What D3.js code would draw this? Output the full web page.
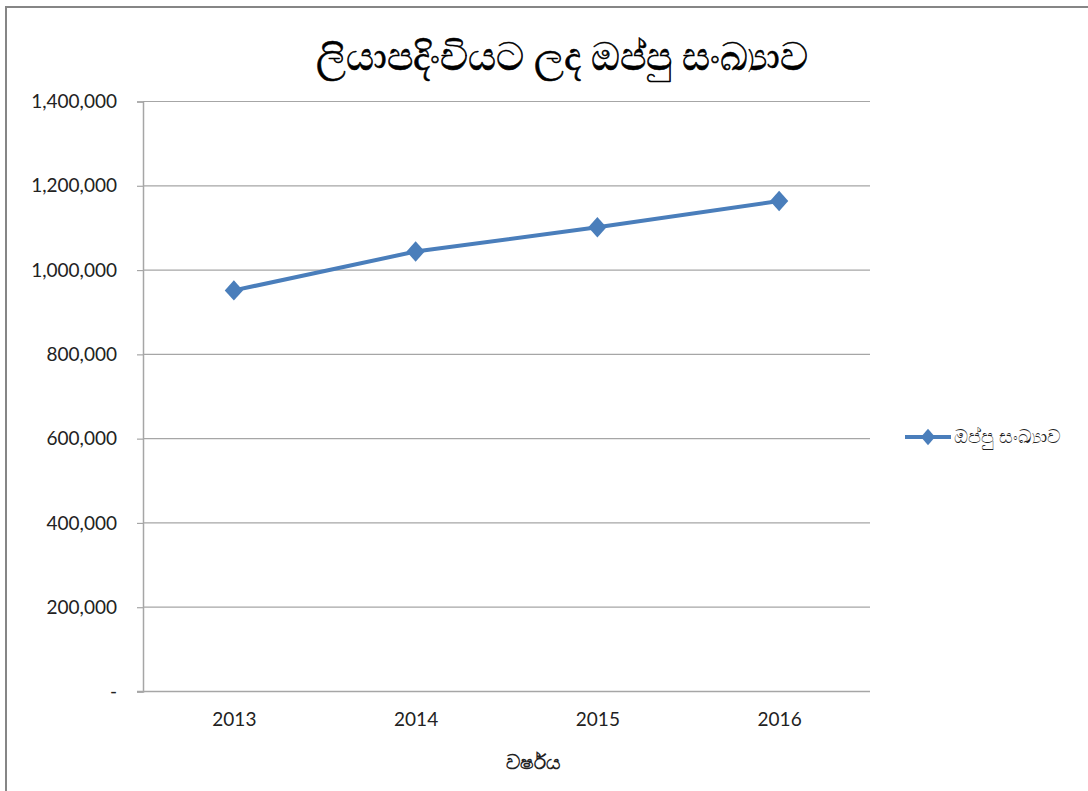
<!DOCTYPE html>
<html>
<head>
<meta charset="utf-8">
<script src="https://cdn.jsdelivr.net/npm/d3@7"></script>
<style>
  body { margin: 0; background: #fff; }
  text { font-family: Lato, "Open Sans", "Liberation Sans", sans-serif; }
</style>
</head>
<body>
<svg id="chart" width="1088" height="791"></svg>
<script>
// chart data
var years = ["2013", "2014", "2015", "2016"]
var deeds = [951800, 1044000, 1101600, 1163800]
var yTicks = [0, 200000, 400000, 600000, 800000, 1000000, 1200000, 1400000]

var titleText = "ලියාපදිංචියට ලද ඔප්පු සංඛ්‍යාව"
var seriesName = "ඔප්පු සංඛ්‍යාව"
var xTitle = "වර්ෂය"

var lineColor = "#4a7ebb"

var svg = d3.select("#chart")

// outer frame
svg.append("rect")
    .attr("x", 6).attr("y", 7)
    .attr("width", 1100).attr("height", 800)
    .attr("fill", "#fff")
    .attr("stroke", "#868686")
    .attr("stroke-width", 2)

// plot area (don't use "top" as a global name, it clashes with window.top)
var plotL = 143, plotR = 870, plotT = 101.5, plotB = 691.5

var x = d3.scalePoint().domain(years).range([plotL, plotR]).padding(0.5)
var y = d3.scaleLinear().domain([0, 1400000]).range([plotB, plotT])

// gridlines
svg.append("g").selectAll("line")
    .data(yTicks.filter(function(d){ return d > 0 }))
    .join("line")
    .attr("x1", plotL).attr("x2", plotR)
    .attr("y1", function(d){ return y(d) }).attr("y2", function(d){ return y(d) })
    .attr("stroke", "#a6a6a6").attr("stroke-width", 1.2)

// y axis
var fmt = function(d){ return d === 0 ? "-" : d3.format(",")(d) }
var yAxis = svg.append("g")
    .attr("transform", "translate(" + plotL + ",0)")
    .call(d3.axisLeft(y).tickValues(yTicks).tickFormat(fmt).tickSize(6).tickPadding(20))
yAxis.select(".domain").attr("stroke", "#a6a6a6").attr("stroke-width", 1.5)
yAxis.selectAll(".tick line").attr("stroke", "#a6a6a6").attr("stroke-width", 1.2)
yAxis.selectAll(".tick text")
    .attr("font-size", 19).attr("fill", "#222")
    .style("font-family", "Lato, 'Open Sans', sans-serif")

// x axis
var xAxis = svg.append("g")
    .attr("transform", "translate(0," + plotB + ")")
    .call(d3.axisBottom(x).tickSize(0).tickPadding(21))
xAxis.select(".domain").attr("d", "M" + (plotL - 6) + ",0H" + plotR)
    .attr("stroke", "#a6a6a6").attr("stroke-width", 1.5)
xAxis.selectAll(".tick text")
    .attr("font-size", 19).attr("fill", "#222")
    .style("font-family", "Lato, 'Open Sans', sans-serif")

// line
var line = d3.line()
    .x(function(d, i){ return x(years[i]) })
    .y(function(d){ return y(d) })

svg.append("path")
    .datum(deeds)
    .attr("d", line)
    .attr("fill", "none")
    .attr("stroke", lineColor)
    .attr("stroke-width", 4)

var diamond = d3.symbol().type(d3.symbolDiamond).size(120)

svg.append("g").selectAll("path")
    .data(deeds)
    .join("path")
    .attr("d", diamond)
    .attr("transform", function(d, i){ return "translate(" + x(years[i]) + "," + y(d) + ") scale(1.55,1)" })
    .attr("fill", lineColor)

// title
svg.append("text")
    .attr("x", 562).attr("y", 70)
    .attr("text-anchor", "middle")
    .attr("font-size", 39)
    .attr("fill", "#000")
    .attr("stroke", "#000").attr("stroke-width", 0.6)
    .text(titleText)

// x axis title
svg.append("text")
    .attr("x", 533).attr("y", 769)
    .attr("text-anchor", "middle")
    .attr("font-size", 20)
    .attr("font-weight", "bold")
    .attr("fill", "#222")
    .text(xTitle)

// legend
var lg = svg.append("g").attr("transform", "translate(905,437)")
lg.append("line")
    .attr("x1", 0).attr("x2", 46)
    .attr("stroke", lineColor).attr("stroke-width", 4)
lg.append("path")
    .attr("d", diamond)
    .attr("transform", "translate(23,0) scale(1.2,0.8)")
    .attr("fill", lineColor)
lg.append("text")
    .attr("x", 49).attr("y", 6)
    .attr("font-size", 19)
    .attr("fill", "#222")
    .text(seriesName)
</script>
</body>
</html>
